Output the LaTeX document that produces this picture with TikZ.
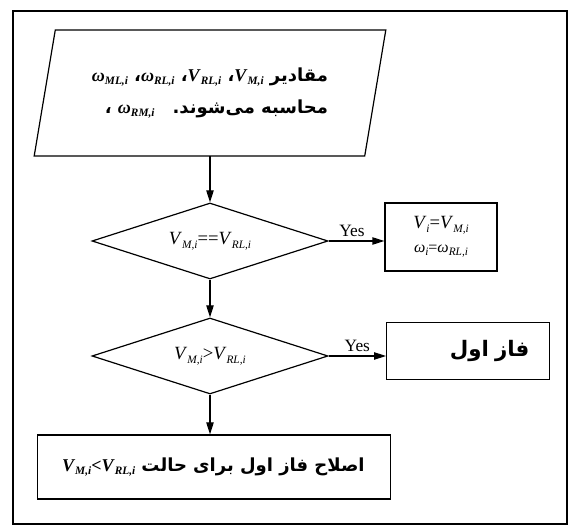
\documentclass[tikz,border=0pt]{standalone}
\usepackage{fontspec}
\setmainfont{Liberation Serif}
\newfontfamily\fafont[Script=Arabic]{DejaVu Sans}
\usetikzlibrary{positioning,arrows.meta,shapes.geometric}
\TeXXeTstate=1

% italic symbol with a lowered italic index
\newcommand{\qv}[2]{{\rmfamily\textit{#1}\raisebox{-0.45ex}{\fontsize{8.5}{9}\selectfont\textit{#2}}}}
\newcommand{\fa}{\fafont\bfseries\fontsize{13.5}{22}\selectfont}

\begin{document}
\begin{tikzpicture}[
  x=0.75pt, y=-0.75pt,
  base/.style={draw, line width=0.9pt, align=center, inner sep=2pt, font=\fontsize{14}{22}\selectfont},
  test/.style={base, diamond, aspect=3.1, inner sep=0pt, minimum width=177pt, minimum height=57pt},
  box/.style={base, rectangle},
  arr/.style={-{Triangle[length=9pt,width=5.5pt]}, line width=0.9pt},
  yes/.style={font=\fontsize{13}{13}\selectfont, inner sep=3pt}
]
\useasboundingbox (0,0) rectangle (572,530);
\draw[line width=1.1pt] (13,11) rectangle (567,524);

\node[align=right, inner xsep=20pt, minimum width=247.5pt, minimum height=94pt, font=\fontsize{14}{24}\selectfont] (calc) at (210,93) {%
  {\fa\beginR مقادیر \beginL\qv{V}{M,i}\endL، \beginL\qv{V}{RL,i}\endL، \beginL\qv{ω}{RL,i}\endL، \beginL\qv{ω}{ML,i}\endL\endR}\\
  {\fa\beginR محاسبه می‌شوند.\quad\beginL\qv{ω}{RM,i}\endL\ ،\endR}};
\draw[line width=0.9pt] ([xshift=7.9pt]calc.north west) -- ([xshift=7.9pt]calc.north east)
  -- ([xshift=-7.9pt]calc.south east) -- ([xshift=-7.9pt]calc.south west) -- cycle;
\node[test] (eq) at (210,241) {\qv{V}{M,i}==\qv{V}{RL,i}};
\node[box, minimum width=84pt, minimum height=51pt] (same) at (441,237)
  {\qv{V}{i}=\qv{V}{M,i}\\[-4pt]{\fontsize{12}{12}\selectfont\qv{ω}{i}=\qv{ω}{RL,i}}};
\node[test] (gt) at (210,356) {\qv{V}{M,i}>\qv{V}{RL,i}};
\node[box, minimum width=122pt, minimum height=43pt, text width=92pt, inner xsep=15pt, align=right] (phase) at (468,351)
  {\fafont\bfseries\fontsize{16}{16}\selectfont\beginR فاز اول\endR};
\node[box, minimum width=265pt, minimum height=48pt, text width=228pt, inner xsep=18pt, align=left] (fix) at (214,467)
  {\fa\beginR اصلاح فاز اول برای حالت \beginL\qv{V}{M,i}{\rmfamily<}\qv{V}{RL,i}\endL\endR};

\draw[arr] (calc.south) -- (eq.north);
\draw[arr] (eq.east) -- node[yes, above, pos=0.42] {Yes} (eq.east -| same.west);
\draw[arr] (eq.south) -- (gt.north);
\draw[arr] (gt.east) -- node[yes, above, pos=0.5] {Yes} (gt.east -| phase.west);
\draw[arr] (gt.south) -- (gt.south |- fix.north);
\end{tikzpicture}
\end{document}
